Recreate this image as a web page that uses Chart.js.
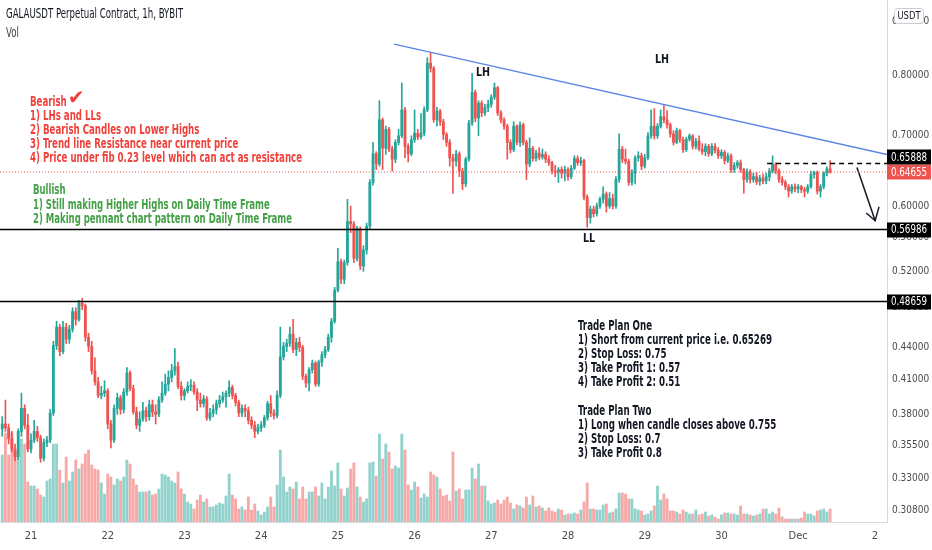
<!DOCTYPE html>
<html>
<head>
<meta charset="utf-8">
<title>GALAUSDT 1h</title>
<script src="https://cdn.jsdelivr.net/npm/chart.js@4.4.1/dist/chart.umd.min.js"></script>
<style>
  html, body { margin: 0; padding: 0; background: #ffffff; }
  #wrap { width: 932px; height: 550px; }
</style>
</head>
<body>
<div id="wrap"><canvas id="galaChart" width="932" height="550"></canvas></div>
<script>
// hourly candles, hour 0 = Nov 21 00:00, first candle Nov 20 15:00
const firstHour = -9;

const opens = [
  .368,.372,.369,.360,.352,.346,.366,.385,.371,
  .352,.359,.366,.361,.345,.357,.359,.381,.442,.460,.436,.460,.448,.458,.476,.468,.485,.482,.450,.441,.418,.408,.396,.398,
  .400,.372,.359,.385,.394,.384,.399,.416,.402,.382,.371,.376,.383,.378,.388,.382,.380,.392,.398,.406,.412,.418,.422,.404,
  .396,.400,.404,.405,.399,.392,.389,.393,.377,.381,.384,.389,.392,.395,.398,.403,.396,.390,.381,.385,.383,.375,.371,.366,
  .369,.371,.377,.389,.381,.379,.396,.431,.441,.444,.453,.438,.445,.440,.413,.407,.419,.425,.406,.426,.433,.438,.450,.466,
  .499,.531,.511,.530,.580,.577,.535,.571,.526,.545,.574,.632,.673,.658,.725,.681,.710,.680,.665,.690,.700,.741,.684,.673,
  .694,.704,.698,.704,.741,.821,.812,.725,.739,.722,.702,.690,.667,.662,.673,.648,.630,.665,.720,.770,.728,.752,.736,.745,
  .750,.762,.778,.736,.725,.715,.690,.679,.715,.690,.717,.690,.658,.681,.666,.674,.668,.672,.665,.660,.648,.646,.650,.645,
  .650,.640,.652,.666,.660,.663,.612,.585,.596,.590,.600,.609,.616,.600,.610,.600,.636,.680,.665,.662,.632,.645,.667,.670,
  .655,.667,.700,.715,.700,.715,.730,.725,.717,.703,.690,.708,.694,.679,.695,.700,.684,.692,.680,.676,.684,.673,.684,.678,
  .670,.675,.663,.670,.650,.656,.660,.650,.636,.647,.636,.640,.633,.638,.634,.640,.648,.658,.648,.636,.632,.626,.620,.626,
  .623,.626,.622,.620,.626,.643,.646,.620,.626,.645,.651
];
const highs = [
  .378,.392,.372,.366,.356,.368,.398,.388,.380,
  .364,.375,.370,.363,.360,.362,.384,.446,.466,.463,.466,.464,.462,.480,.480,.488,.490,.484,.454,.446,.430,.412,.404,.409,
  .402,.375,.388,.398,.396,.402,.421,.418,.405,.386,.382,.390,.386,.392,.392,.388,.395,.408,.415,.418,.424,.439,.426,.408,
  .402,.408,.410,.408,.402,.398,.396,.395,.385,.388,.392,.396,.399,.400,.409,.405,.398,.392,.388,.388,.386,.378,.374,.372,
  .374,.379,.391,.396,.384,.400,.460,.445,.448,.460,.468,.449,.450,.442,.415,.421,.428,.427,.428,.436,.441,.453,.469,.502,
  .547,.534,.533,.609,.600,.580,.574,.573,.550,.578,.636,.690,.676,.756,.728,.715,.713,.684,.694,.710,.786,.745,.688,.700,
  .741,.710,.735,.746,.831,.839,.815,.745,.742,.726,.705,.694,.672,.678,.676,.652,.668,.724,.803,.774,.756,.756,.750,.757,
  .766,.786,.780,.740,.728,.718,.694,.722,.717,.722,.720,.693,.697,.684,.678,.682,.680,.676,.670,.662,.656,.653,.654,.655,
  .653,.656,.670,.670,.668,.665,.615,.600,.600,.604,.612,.626,.619,.618,.616,.640,.703,.684,.680,.665,.650,.670,.676,.674,
  .672,.705,.741,.743,.719,.741,.748,.740,.720,.708,.712,.710,.698,.698,.703,.702,.696,.700,.688,.688,.687,.688,.688,.682,
  .679,.678,.674,.673,.660,.663,.664,.652,.651,.650,.645,.646,.642,.644,.645,.652,.670,.660,.651,.640,.635,.629,.629,.630,
  .629,.628,.625,.629,.648,.648,.648,.629,.647,.654,.663
];
const lows = [
  .362,.366,.356,.350,.343,.344,.362,.368,.350,
  .349,.357,.358,.342,.343,.354,.357,.379,.438,.432,.434,.444,.444,.455,.462,.466,.478,.446,.436,.415,.405,.394,.393,.395,
  .368,.353,.357,.380,.380,.381,.396,.400,.380,.368,.366,.374,.374,.375,.378,.372,.378,.390,.396,.400,.408,.414,.402,.392,
  .392,.398,.400,.397,.383,.386,.386,.375,.375,.378,.380,.386,.390,.386,.395,.393,.387,.378,.378,.378,.372,.368,.361,.364,
  .366,.369,.375,.378,.376,.377,.394,.428,.436,.441,.435,.432,.436,.410,.403,.400,.416,.404,.404,.422,.430,.436,.445,.464,
  .497,.506,.506,.527,.566,.530,.532,.522,.520,.540,.570,.628,.650,.655,.650,.672,.676,.648,.660,.686,.697,.667,.661,.670,
  .690,.694,.695,.700,.738,.805,.721,.715,.716,.694,.684,.655,.617,.655,.640,.622,.626,.662,.716,.722,.700,.730,.732,.738,
  .745,.758,.732,.720,.710,.665,.674,.676,.686,.684,.686,.636,.654,.662,.662,.664,.665,.660,.656,.644,.640,.632,.638,.634,
  .635,.637,.650,.656,.656,.608,.573,.578,.586,.587,.597,.604,.592,.597,.596,.597,.632,.660,.658,.628,.628,.630,.662,.650,
  .652,.664,.696,.695,.696,.712,.720,.712,.698,.686,.688,.690,.675,.676,.692,.680,.680,.677,.672,.670,.669,.670,.674,.666,
  .666,.658,.660,.646,.646,.652,.646,.617,.632,.631,.632,.629,.628,.630,.630,.634,.645,.644,.632,.628,.622,.612,.617,.619,
  .618,.618,.612,.617,.624,.638,.616,.612,.623,.641,.645
];
const closes = [
  .372,.369,.360,.352,.346,.366,.385,.371,.352,
  .359,.366,.361,.345,.357,.359,.381,.442,.460,.436,.460,.448,.458,.476,.468,.485,.482,.450,.441,.418,.408,.396,.398,.400,
  .372,.359,.385,.394,.384,.399,.416,.402,.382,.371,.376,.383,.378,.388,.382,.380,.392,.398,.406,.412,.418,.422,.404,.396,
  .400,.404,.405,.399,.392,.389,.393,.377,.381,.384,.389,.392,.395,.398,.403,.396,.390,.381,.385,.383,.375,.371,.366,.369,
  .371,.377,.389,.381,.379,.396,.431,.441,.444,.453,.438,.445,.440,.413,.407,.419,.425,.406,.426,.433,.438,.450,.466,.499,
  .531,.511,.530,.580,.577,.535,.571,.526,.545,.574,.632,.673,.658,.725,.681,.710,.680,.665,.690,.700,.741,.684,.673,.694,
  .704,.698,.704,.741,.821,.812,.725,.739,.722,.702,.690,.667,.662,.673,.648,.630,.665,.720,.770,.728,.752,.736,.745,.750,
  .762,.778,.736,.725,.715,.690,.679,.715,.690,.717,.690,.658,.681,.666,.674,.668,.672,.665,.660,.648,.646,.650,.645,.650,
  .640,.652,.666,.660,.663,.612,.585,.596,.590,.600,.609,.616,.600,.610,.600,.636,.680,.665,.662,.632,.645,.667,.670,.655,
  .667,.700,.715,.700,.715,.730,.725,.717,.703,.690,.708,.694,.679,.695,.700,.684,.692,.680,.676,.684,.673,.684,.678,.670,
  .675,.663,.670,.650,.656,.660,.650,.636,.647,.636,.640,.633,.638,.634,.640,.648,.658,.648,.636,.632,.626,.620,.626,.623,
  .626,.622,.620,.626,.643,.646,.620,.626,.645,.651,.64655
];
// volume, relative units
const volumes = [
  67,89,67,89,70,63,83,78,40,
  36,36,33,27,25,41,43,78,78,52,39,65,41,50,62,53,58,68,72,57,53,52,39,28,
  48,45,37,43,41,45,62,58,43,37,30,30,30,31,27,28,33,48,47,45,41,39,50,33,
  28,20,18,13,22,27,20,23,15,15,17,19,18,26,48,27,23,13,15,12,25,12,18,11,
  7,10,15,25,15,37,72,45,30,35,33,40,23,35,23,30,30,35,26,39,23,35,51,36,
  59,33,26,34,53,59,35,25,20,23,59,60,46,88,63,78,70,53,56,54,88,72,37,32,
  40,35,24,28,25,50,47,45,33,26,27,21,70,31,33,23,32,32,54,43,58,36,36,21,
  18,19,22,18,22,25,19,13,17,16,14,25,17,26,15,16,14,11,14,11,10,13,12,7,
  8,8,9,8,12,20,39,13,13,12,12,17,18,9,10,13,29,29,28,23,23,13,12,11,
  7,8,11,16,36,22,28,23,11,11,10,8,12,10,8,8,12,7,8,10,6,7,5,3,
  7,9,9,8,8,7,16,8,8,7,6,7,8,13,13,8,10,8,14,5,3,3,3,3,
  3,4,10,8,8,6,11,12,13,10,13
];

const dayTicks = [0, 24, 48, 72, 96, 120, 144, 168, 192, 216, 240, 264];
const dayLabels = ['21', '22', '23', '24', '25', '26', '27', '28', '29', '30', 'Dec', '2'];
const priceTicks = [0.308, 0.33, 0.355, 0.38, 0.41, 0.44, 0.48, 0.52, 0.56, 0.6, 0.7, 0.8, 0.9];

const supportLevels = [0.56986, 0.48659];
const lastPrice = 0.64655;
const breakLevel = 0.65888;
const trendHours = [113.6, 267.8];
const trendPrices = [0.856, 0.6717];
const arrowHours = [258.4, 264.1];
const arrowPrices = [0.653, 0.581];
const arrowHeadHours = [261.3, 264.1, 265.3];
const arrowHeadPrices = [0.591, 0.581, 0.599];

const xMin = -9.7, xMax = 267.8;

const bearishLines = [
  '1) LHs and LLs',
  '2) Bearish Candles on Lower Highs',
  '3) Trend line Resistance near current price',
  '4) Price under fib 0.23 level which can act as resistance'
];
const bullishLines = [
  '1) Still making Higher Highs on Daily Time Frame',
  '2) Making pennant chart pattern on Daily Time Frame'
];
const planOne = [
  'Trade Plan One',
  '1) Short from current price i.e. 0.65269',
  '2) Stop Loss: 0.75',
  '3) Take Profit 1: 0.57',
  '4) Take Profit 2: 0.51'
];
const planTwo = [
  'Trade Plan Two',
  '1) Long when candle closes above 0.755',
  '2) Stop Loss: 0.7',
  '3) Take Profit 0.8'
];

const FONT = '"DejaVu Sans Condensed", "DejaVu Sans", sans-serif';
const GREEN = '#26a69a', RED = '#ef5350';

const hours = opens.map((o, i) => firstHour + i);
const isUp = closes.map((c, i) => c >= opens[i]);
const candleColors = isUp.map(u => (u ? GREEN : RED));
const volColors = isUp.map(u => (u ? 'rgba(38,166,154,0.5)' : 'rgba(239,83,80,0.5)'));

function lineSet(xs, ys, color, width, dash) {
  return {
    type: 'line',
    data: xs.map((x, i) => ({ x: x, y: ys[i] })),
    borderColor: color,
    borderWidth: width,
    borderDash: dash || [],
    pointRadius: 0,
    fill: false,
    tension: 0,
    yAxisID: 'y',
    order: 0
  };
}

// narrow text: squeeze horizontally so a block fits the width it has in the screenshot
function squeeze(ctx, text, x, y, sx) {
  ctx.save();
  ctx.translate(x, y);
  ctx.scale(sx, 1);
  ctx.fillText(text, 0, 0);
  ctx.restore();
}
function fitRatio(ctx, text, width) {
  return width / ctx.measureText(text).width;
}

const overlay = {
  id: 'overlay',
  beforeDraw(chart) {
    const ctx = chart.ctx;
    ctx.save();
    ctx.fillStyle = '#ffffff';
    ctx.fillRect(0, 0, chart.width, chart.height);
    ctx.restore();
  },
  afterDraw(chart) {
    const ctx = chart.ctx;
    const x = chart.scales.x, y = chart.scales.y;
    const area = chart.chartArea;
    ctx.save();
    ctx.textBaseline = 'middle';

    // header
    ctx.fillStyle = '#131722';
    ctx.font = '13.5px ' + FONT;
    const title = 'GALAUSDT Perpetual Contract, 1h, BYBIT';
    const tr = fitRatio(ctx, title, 177);
    squeeze(ctx, title, 6, 14, tr);
    ctx.fillStyle = '#3c3f47';
    squeeze(ctx, 'Vol', 6, 33, tr);

    // bearish notes
    ctx.font = 'bold 14px ' + FONT;
    const br = fitRatio(ctx, bearishLines[3], 272);
    ctx.fillStyle = '#f0413b';
    squeeze(ctx, 'Bearish', 30, 102, br);
    const bw = ctx.measureText('Bearish').width * br;
    ctx.font = 'bold 20px "DejaVu Sans", sans-serif';
    ctx.fillText('\u2714', 30 + bw + 1, 99);
    ctx.font = 'bold 14px ' + FONT;
    bearishLines.forEach((t, i) => squeeze(ctx, t, 30, 116 + i * 14, br));

    // bullish notes
    ctx.fillStyle = '#43a047';
    const gr = fitRatio(ctx, bullishLines[1], 259);
    squeeze(ctx, 'Bullish', 33, 190, gr);
    bullishLines.forEach((t, i) => squeeze(ctx, t, 33, 205 + i * 14, gr));

    // trade plans
    ctx.fillStyle = '#131722';
    const pr = fitRatio(ctx, planOne[1], 194);
    planOne.forEach((t, i) => squeeze(ctx, t, 578, 326 + i * 14.2, pr));
    planTwo.forEach((t, i) => squeeze(ctx, t, 578, 411 + i * 14.2, pr));

    // swing labels
    ctx.textAlign = 'center';
    ctx.font = 'bold 12.5px ' + FONT;
    squeeze(ctx, 'LH', x.getPixelForValue(141.4), y.getPixelForValue(0.8035), 0.85);
    squeeze(ctx, 'LH', x.getPixelForValue(197.4), y.getPixelForValue(0.827), 0.85);
    squeeze(ctx, 'LL', x.getPixelForValue(174.6), y.getPixelForValue(0.559), 0.85);

    // price tags on the axis
    ctx.textAlign = 'left';
    ctx.font = '12px ' + FONT;
    const kr = fitRatio(ctx, '0.65888', 36);
    function tag(value, bg, cy) {
      const py = cy !== undefined ? cy : y.getPixelForValue(value);
      ctx.fillStyle = bg;
      ctx.fillRect(area.right, Math.round(py) - 7.5, 44, 15);
      ctx.fillStyle = '#ffffff';
      squeeze(ctx, value.toFixed(5), area.right + 4, py + 0.5, kr);
    }
    const lastY = y.getPixelForValue(lastPrice);
    tag(lastPrice, RED);
    tag(breakLevel, '#000000', Math.min(y.getPixelForValue(breakLevel), lastY - 15));
    supportLevels.forEach(v => tag(v, '#000000'));

    // currency box
    ctx.fillStyle = '#ffffff';
    ctx.strokeStyle = '#c9ccd3';
    ctx.lineWidth = 1;
    ctx.beginPath();
    ctx.roundRect(894.5, 8.5, 29, 15, 3);
    ctx.fill();
    ctx.stroke();
    ctx.fillStyle = '#131722';
    ctx.font = '11px ' + FONT;
    ctx.textAlign = 'center';
    squeeze(ctx, 'USDT', 909, 16.5, 0.85);
    ctx.restore();
  }
};

new Chart(document.getElementById('galaChart'), {
  type: 'bar',
  data: {
    datasets: [
      lineSet([xMin, xMax], [supportLevels[0], supportLevels[0]], '#000000', 1.5),
      lineSet([xMin, xMax], [supportLevels[1], supportLevels[1]], '#000000', 1.5),
      lineSet([xMin, xMax], [lastPrice, lastPrice], RED, 1, [1, 2]),
      lineSet([230.3, xMax], [breakLevel, breakLevel], '#000000', 1.5, [5, 4]),
      lineSet(trendHours, trendPrices, '#5b86e5', 1.5),
      lineSet(arrowHours, arrowPrices, '#131722', 1.5),
      lineSet(arrowHeadHours, arrowHeadPrices, '#131722', 1.5),
      {
        label: 'Bodies',
        data: hours.map((h, i) => ({ x: h, y: [opens[i], closes[i]] })),
        backgroundColor: candleColors,
        barThickness: 2.2,
        minBarLength: 1,
        grouped: false,
        yAxisID: 'y',
        order: 1
      },
      {
        label: 'Wicks',
        data: hours.map((h, i) => ({ x: h, y: [lows[i], highs[i]] })),
        backgroundColor: candleColors,
        barThickness: 1,
        grouped: false,
        yAxisID: 'y',
        order: 2
      },
      {
        label: 'Vol',
        data: hours.map((h, i) => ({ x: h, y: volumes[i] })),
        backgroundColor: volColors,
        barThickness: 2.2,
        grouped: false,
        yAxisID: 'yVol',
        order: 3
      }
    ]
  },
  options: {
    responsive: false,
    animation: false,
    devicePixelRatio: 1,
    layout: { padding: 0, autoPadding: false },
    plugins: { legend: { display: false }, tooltip: { enabled: false } },
    scales: {
      x: {
        type: 'linear',
        min: xMin,
        max: xMax,
        offset: false,
        grid: { display: false, drawTicks: false },
        border: { display: true, color: '#d6d9e0' },
        ticks: {
          autoSkip: false,
          maxRotation: 0,
          padding: 8,
          color: '#4a4a4a',
          font: { family: FONT, size: 11 },
          callback: (v, i) => dayLabels[i]
        },
        afterBuildTicks: s => { s.ticks = dayTicks.map(v => ({ value: v })); },
        afterFit: s => { s.height = 28; s.paddingLeft = 0; s.paddingRight = 0; }
      },
      y: {
        type: 'logarithmic',
        position: 'right',
        min: 0.300,
        max: 0.943,
        grid: { display: false, drawTicks: false },
        border: { display: true, color: '#d6d9e0' },
        ticks: {
          padding: 5,
          color: '#4a4a4a',
          font: { family: FONT, size: 10 },
          callback: v => Number(v).toFixed(5)
        },
        afterBuildTicks: s => { s.ticks = priceTicks.map(v => ({ value: v })); },
        afterFit: s => { s.width = 45; s.paddingTop = 0; s.paddingBottom = 0; }
      },
      yVol: { type: 'linear', display: false, min: 0, max: 522 }
    }
  },
  plugins: [overlay]
});
</script>
</body>
</html>
